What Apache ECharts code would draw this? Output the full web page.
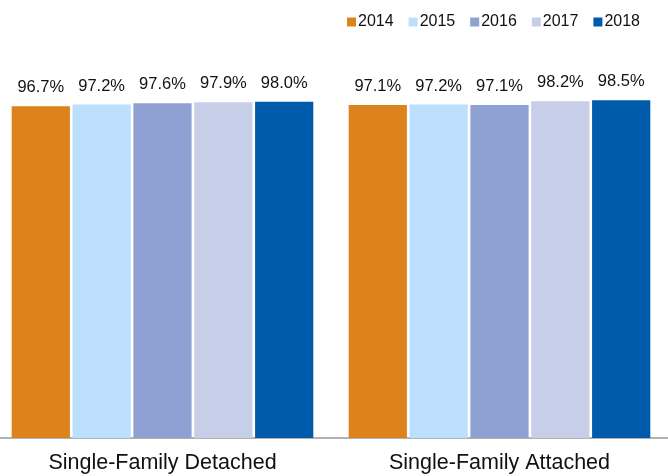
<!DOCTYPE html>
<html>
<head>
<meta charset="utf-8">
<script src="https://cdn.jsdelivr.net/npm/echarts@6/dist/echarts.min.js"></script>
<style>html,body{margin:0;padding:0;background:#fff;overflow:hidden}#c{width:674px;height:476px;margin-left:-6.5px}</style>
</head>
<body>
<div id="c"></div>
<script>
const categories = ['Single-Family Detached', 'Single-Family Attached'];
const years = ['2014', '2015', '2016', '2017', '2018'];
const v2014 = [96.7, 97.1];
const v2015 = [97.2, 97.2];
const v2016 = [97.6, 97.1];
const v2017 = [97.9, 98.2];
const v2018 = [98.0, 98.5];
const colors = ['#DC831E', '#BBDFFD', '#8EA1D2', '#C7CEE8', '#005BAA'];
const values = [v2014, v2015, v2016, v2017, v2018];

const chart = echarts.init(document.getElementById('c'));
chart.setOption({
  animation: false,
  legend: {
    right: 23, top: 9,
    icon: 'rect', itemWidth: 9, itemHeight: 9, itemGap: 15,
    textStyle: { fontSize: 16, color: '#111', fontFamily: 'Liberation Sans, Arial, sans-serif', padding: [0, 0, 0, -3] },
    data: years
  },
  grid: { left: 0, right: 0, top: 95, bottom: 38 },
  xAxis: {
    type: 'category', data: categories,
    axisLine: { lineStyle: { color: '#999', width: 1.5 } },
    axisTick: { show: false },
    axisLabel: { fontSize: 21.5, color: '#111', margin: 14, fontFamily: 'Liberation Sans, Arial, sans-serif' }
  },
  yAxis: { type: 'value', min: 0, max: 100, show: false, splitLine: { show: false } },
  series: years.map((y, i) => ({
    name: y, type: 'bar', data: values[i],
    barGap: '4.5%', barCategoryGap: '10.5%',
    itemStyle: { color: colors[i] },
    label: {
      show: true, position: 'top', distance: 10,
      formatter: p => p.value.toFixed(1) + '%',
      fontSize: 16.5, color: '#111', fontFamily: 'Liberation Sans, Arial, sans-serif'
    }
  }))
});
</script>
</body>
</html>
